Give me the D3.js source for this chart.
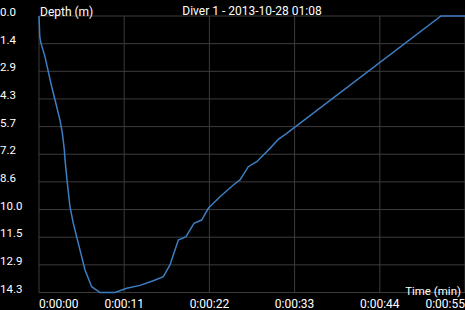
<!DOCTYPE html>
<html>
<head>
<meta charset="utf-8">
<script src="https://cdn.jsdelivr.net/npm/d3@7"></script>
<style>
  html, body { margin: 0; padding: 0; background: #000; }
  svg { display: block; font-family: Roboto, "Noto Sans", sans-serif; }
</style>
</head>
<body>
<div id="container"></div>
<script>
/* DATA */
const title = "Diver 1 - 2013-10-28 01:08";
// dive profile: time in seconds, depth in metres
const timeSec = [0, 0.1, 0.26, 0.77, 1.2, 1.64, 2.07, 2.71, 3.01, 3.27, 3.36, 3.65, 4.0, 4.43, 5.07, 5.94, 6.8, 7.88, 9.81, 11.32, 13.04, 14.76, 16.05, 16.91, 17.99, 18.98, 20.01, 21.0, 21.86, 23.37, 25.09, 25.95, 27.02, 28.11, 29.83, 30.9, 31.98, 51.9, 55];
const depthM = [0, 1.09, 1.42, 2.11, 2.89, 3.67, 4.36, 5.40, 6.07, 6.95, 7.47, 8.65, 9.9, 10.76, 11.79, 13.18, 14.05, 14.35, 14.35, 14.13, 13.98, 13.74, 13.53, 12.92, 11.63, 11.45, 10.76, 10.59, 9.98, 9.38, 8.77, 8.51, 7.82, 7.56, 6.87, 6.40, 6.09, 0, 0];
const maxDepth = 14.35;
const maxTime = 55;
const timeTicks = [0, 11, 22, 33, 44, 55];
const timeTickLabels = ["0:00:00", "0:00:11", "0:00:22", "0:00:33", "0:00:44", "0:00:55"];
const depthTickLabels = ["0.0", "1.4", "2.9", "4.3", "5.7", "7.2", "8.6", "10.0", "11.5", "12.9", "14.3"];

/* LAYOUT */
const W = 465, H = 310;
const margin = {top: 16, right: 0, bottom: 17.5, left: 39};

const svg = d3.select("#container").append("svg")
  .attr("width", W).attr("height", H);
svg.append("rect").attr("width", W).attr("height", H).attr("fill", "#000");

/* SCALES */
const x = d3.scaleLinear().domain([0, maxTime]).range([margin.left, W - margin.right]);
const y = d3.scaleLinear().domain([0, maxDepth]).range([margin.top, H - margin.bottom]);
const depthTicks = depthTickLabels.map((d, i) => i * maxDepth / (depthTickLabels.length - 1));

/* GRID */
svg.append("g").selectAll("line")
  .data(depthTicks).join("line")
  .attr("x1", margin.left).attr("x2", W)
  .attr("y1", d => y(d)).attr("y2", d => y(d))
  .attr("stroke", "#3c3c3c").attr("stroke-width", 1);

svg.append("g").selectAll("line")
  .data(timeTicks).join("line")
  .attr("x1", d => x(d)).attr("x2", d => x(d))
  .attr("y1", y(0)).attr("y2", y(maxDepth))
  .attr("stroke", "#3c3c3c").attr("stroke-width", 1);

/* AXIS LABELS */
svg.append("g").selectAll("text")
  .data(depthTicks).join("text")
  .attr("x", 0).attr("y", d => y(d))
  .attr("fill", "#fff").attr("font-size", 11.5)
  .text((d, i) => depthTickLabels[i]);

const xl = svg.append("g").selectAll("text")
  .data(timeTicks).join("text")
  .attr("y", 308)
  .attr("fill", "#fff").attr("font-size", 12)
  .attr("text-anchor", "middle")
  .text((d, i) => timeTickLabels[i]);
// keep labels inside the plot's horizontal range
xl.each(function(d) {
  const w = this.getComputedTextLength();
  const cx = Math.max(margin.left + w / 2, Math.min(W - w / 2, x(d)));
  d3.select(this).attr("x", cx);
});

svg.append("text")
  .attr("x", margin.left + 1).attr("y", 16)
  .attr("fill", "#fff").attr("font-size", 12)
  .text("Depth (m)");

svg.append("text")
  .attr("x", 461).attr("y", 295)
  .attr("text-anchor", "end")
  .attr("fill", "#fff").attr("font-size", 11.5)
  .text("Time (min)");

svg.append("text")
  .attr("x", (margin.left + W) / 2).attr("y", 15)
  .attr("text-anchor", "middle")
  .attr("fill", "#fff").attr("font-size", 12)
  .text(title);

/* LINE */
const pts = timeSec.map((t, i) => [t, depthM[i]]);
svg.append("path")
  .datum(pts)
  .attr("fill", "none")
  .attr("stroke", "#3d7ec2")
  .attr("stroke-width", 1.5)
  .attr("d", d3.line().x(d => x(d[0])).y(d => y(d[1])));
</script>
</body>
</html>
